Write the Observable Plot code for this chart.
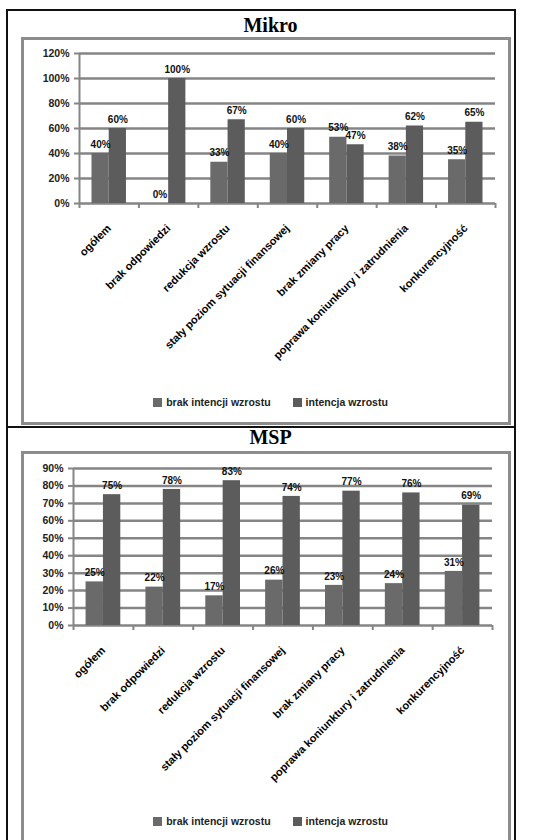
<!DOCTYPE html>
<html><head><meta charset="utf-8">
<script src="https://cdn.jsdelivr.net/npm/d3@7"></script>
<script src="https://cdn.jsdelivr.net/npm/@observablehq/plot@0.6"></script>
<style>
body{margin:0;background:#fff;}
#root{position:relative;width:541px;height:840px;overflow:hidden;background:#fff;font-family:"Liberation Sans",Arial,sans-serif;}
.outer{position:absolute;border:2px solid #111;box-sizing:border-box;}
.inner{position:absolute;border:3px solid #8c8c8c;box-sizing:border-box;}
.title{position:absolute;left:0;width:541px;text-align:center;font-family:"Liberation Serif","Times New Roman",serif;font-weight:bold;font-size:20px;line-height:20px;color:#000;}
.plot{position:absolute;}
.legend{position:absolute;left:0;width:541px;display:flex;justify-content:center;gap:22px;font-size:10.5px;font-weight:bold;color:#222;}
.legend span.sw{display:inline-block;width:9px;height:9px;margin-right:4px;vertical-align:-1px;}
</style></head>
<body><div id="root"></div>
<script>
const categoriesMikro = ["ogółem","brak odpowiedzi","redukcja wzrostu","stały poziom sytuacji finansowej","brak zmiany pracy","poprawa koniunktury i zatrudnienia","konkurencyjność"];
const categoriesMSP = ["ogółem","brak odpowiedzi","redukcja wzrostu","stały poziom sytuacji finansowej","brak zmiany pracy","poprawa koniunktury i zatrudnienia","konkurencyjność"];
const seriesNames = ["brak intencji wzrostu","intencja wzrostu"];
const mikroBrak = [40,0,33,40,53,38,35];
const mikroIntencja = [60,100,67,60,47,62,65];
const mspBrak = [25,22,17,26,23,24,31];
const mspIntencja = [75,78,83,74,77,76,69];
const mikroTicks = [0,20,40,60,80,100,120];
const mspTicks = [0,10,20,30,40,50,60,70,80,90];
const colors = ["#6a6a6a","#5c5c5c"];

const root = document.getElementById("root");
function div(cls, style, html){const d=document.createElement("div");d.className=cls;Object.assign(d.style,style);if(html)d.innerHTML=html;root.appendChild(d);return d;}

function makeChart(cats, brak, intencja, ticks, opts){
  const rows = [];
  cats.forEach((c,i)=>{rows.push({i, cat:c, s:0, v:brak[i]}); rows.push({i, cat:c, s:1, v:intencja[i]});});
  const bounds = d3.range(cats.length+1).map(k=>k-0.5);
  const w = 0.29;
  return Plot.plot({
    width: 488, height: 355,
    marginLeft: opts.ml, marginRight: opts.mr, marginTop: opts.mt, marginBottom: opts.mb,
    style:{fontFamily:"'Liberation Sans',Arial,sans-serif", background:"transparent", overflow:"visible"},
    x:{type:"linear", domain:[-0.5, cats.length-0.5], axis:null},
    y:{domain:[0, ticks[ticks.length-1]], axis:null},
    marks:[
      Plot.ruleY(ticks, {y:d=>d, stroke:"#858585", strokeWidth:2.5}),
      Plot.ruleX([-0.5], {stroke:"#858585", strokeWidth:2}),
      Plot.rectY(rows, {x1:d=>d.s===0? d.i-w : d.i, x2:d=>d.s===0? d.i : d.i+w, y1:0, y2:"v", fill:d=>colors[d.s]}),
      Plot.text(rows, {x:d=>d.s===0? d.i-w/2 : d.i+w/2, y:"v", text:d=>d.v+"%", dy:-9, fontSize:10, fontWeight:"bold", fill:"#111"}),
      Plot.axisX({ticks:bounds, tickFormat:()=>"", tickSize:5, stroke:"#858585", strokeWidth:2, label:null}),
      Plot.axisY({ticks, tickFormat:d=>d+"%", tickSize:5, tickPadding:5, fontSize:10.5, fontWeight:"bold", stroke:"#858585", strokeWidth:2, fill:"#222", label:null}),
      Plot.text(cats, {x:(d,i)=>i, frameAnchor:"bottom", dy: opts.labelDy, text:d=>d, rotate:-45, textAnchor:"end", lineAnchor:"middle", fontSize:11, fontWeight:"bold", fill:"#000"})
    ]
  });
}

// frames
div("outer", {left:"6px", top:"9px", width:"510px", height:"419px"});
div("outer", {left:"6px", top:"426px", width:"510px", height:"420px"});
div("inner", {left:"21px", top:"37px", width:"490px", height:"388px"});
div("inner", {left:"21px", top:"451px", width:"490px", height:"395px"});

div("title", {top:"15px"}, "Mikro");
div("title", {top:"427px"}, "MSP");

const p1 = makeChart(categoriesMikro, mikroBrak, mikroIntencja, mikroTicks, {ml:57, mr:15, mt:15, mb:190, labelDy:23});
const c1 = div("plot", {left:"22px", top:"38px"}); c1.appendChild(p1);
const p2 = makeChart(categoriesMSP, mspBrak, mspIntencja, mspTicks, {ml:51, mr:18, mt:16, mb:182, labelDy:23});
const c2 = div("plot", {left:"22px", top:"452px"}); c2.appendChild(p2);

function legend(top){
  div("legend", {top: top+"px"}, seriesNames.map((n,k)=>`<span><span class="sw" style="background:${colors[k]}"></span>${n}</span>`).join(""));
}
legend(396);
legend(815);
</script>
</body></html>
